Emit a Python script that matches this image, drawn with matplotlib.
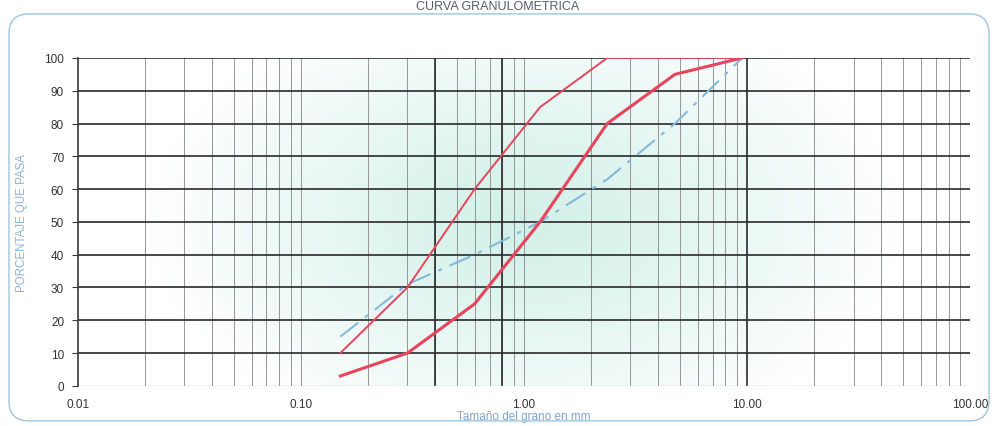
import numpy as np
import matplotlib
matplotlib.use('Agg')
import matplotlib.pyplot as plt
from matplotlib.patches import FancyBboxPatch
from matplotlib.ticker import FixedLocator, NullFormatter

plt.rcParams['font.family'] = ['Liberation Sans', 'DejaVu Sans']

# sieve sizes (mm) and percent passing
sizes = [0.15, 0.30, 0.60, 1.18, 2.36, 4.75, 9.50]
lim_inf = [3, 10, 25, 50, 80, 95, 100]
lim_sup = [10, 30, 60, 85, 100, 100, 100]
muestra = [15, 31, 40, 50, 63, 80, 100]

x_ticks = [0.01, 0.1, 1, 10, 100]
x_ticklabels = ['0.01', '0.10', '1.00', '10.00', '100.00']
y_ticks = list(range(0, 101, 10))
bold_vlines = [0.4, 0.8, 10]

fig = plt.figure(figsize=(9.95, 4.27), dpi=100)
ax = fig.add_axes([0.0784, 0.094, 0.8966, 0.768])

# rounded frame around the chart
frame = FancyBboxPatch((0.009, 0.012), 0.985, 0.953, transform=fig.transFigure,
                       boxstyle='round,pad=0,rounding_size=0.02',
                       facecolor='none', edgecolor='#9cc6dc', linewidth=1.0,
                       mutation_aspect=995 / 427)
fig.patches.append(frame)
fig.text(0.5, 0.983, 'CURVA GRANULOMETRICA', ha='center', va='center',
         fontsize=9, color='#50606e')

# pale radial background
gx, gy = np.meshgrid(np.linspace(0, 1, 300), np.linspace(0, 1, 150))
d = np.sqrt(((gx - 0.5) / 0.42) ** 2 + ((gy - 0.5) / 0.7) ** 2)
w = np.clip(1 - d, 0, 1) ** 0.9
img = np.ones((150, 300, 3))
base = np.array([0.82, 0.94, 0.91])
for k in range(3):
    img[:, :, k] = 1 - w * (1 - base[k])
ax.imshow(img, extent=[0, 1, 0, 1], transform=ax.transAxes, aspect='auto',
          zorder=0, origin='lower')

ax.set_xscale('log')
ax.set_xlim(0.01, 100)
ax.set_ylim(0, 100)

minor = [m * 10.0 ** e for e in range(-2, 2) for m in range(2, 10)]
for xv in minor + [0.1, 1, 100]:
    ax.axvline(xv, color='#959595', lw=0.7, zorder=1)
for xv in bold_vlines:
    ax.axvline(xv, color='#2a2a2a', lw=1.2, zorder=1)
for yv in y_ticks[1:]:
    ax.axhline(yv, color='#2a2a2a', lw=1.2, zorder=1)
ax.axhline(0, color='#c8c8c8', lw=1.0, zorder=1)

ax.plot(sizes, muestra, color='#86b8de', lw=1.5, dashes=(11, 4, 2, 4), zorder=3)
ax.plot(sizes, lim_sup, color='#e8455c', lw=1.4, zorder=4)
ax.plot(sizes, lim_inf, color='#e8455c', lw=2.2, zorder=4)

for s in ['top', 'right', 'bottom']:
    ax.spines[s].set_visible(False)
ax.spines['left'].set_color('#3a3a3a')
ax.spines['left'].set_linewidth(1.2)

ax.xaxis.set_major_locator(FixedLocator(x_ticks))
ax.set_xticklabels(x_ticklabels)
ax.xaxis.set_minor_formatter(NullFormatter())
ax.tick_params(axis='x', which='both', length=0, pad=9, labelsize=8.5,
               labelcolor='#333333')
ax.set_yticks(y_ticks)
ax.tick_params(axis='y', length=4, color='#3a3a3a', labelsize=8.5,
               labelcolor='#333333', pad=6)

ax.set_xlabel('Tamaño del grano en mm', fontsize=8.5, color='#7fa6cc', labelpad=0)
ax.set_ylabel('PORCENTAJE QUE PASA', fontsize=8.3, color='#8db3d6', labelpad=12)

fig.savefig('out.png', dpi=100)
